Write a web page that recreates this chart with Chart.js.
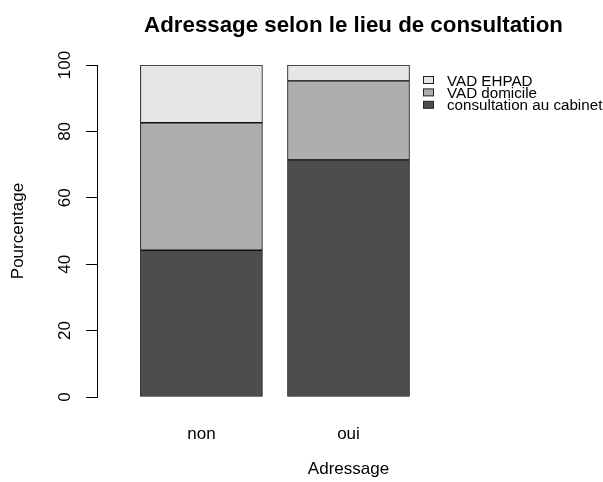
<!DOCTYPE html>
<html><head><meta charset="utf-8">
<script src="https://cdn.jsdelivr.net/npm/chart.js@4"></script>
<style>html,body{margin:0;padding:0;background:#fff}canvas{display:block}</style>
</head><body>
<div style="width:603px;height:482px"><canvas id="c" width="603" height="482" style="width:603px;height:482px"></canvas></div>
<script>
// ---- data ----
const categories = ['non', 'oui'];
const seriesNames = ['consultation au cabinet', 'VAD domicile', 'VAD EHPAD'];
const cabinet = [44.2, 71.4];
const domicile = [38.4, 23.8];
const ehpad = [17.4, 4.8];
const yTicks = [0, 20, 40, 60, 80, 100];
const chartTitle = 'Adressage selon le lieu de consultation';
const xTitle = 'Adressage';
const yTitle = 'Pourcentage';

// ---- styles ----
const colors = ['#4d4d4d', '#aeaeae', '#e6e6e6'];
const FONT = "'Liberation Sans', Arial, sans-serif";

// R barplot convention: bar width 1, space 0.2 ; xlim c(0, 3.8) with 4% extension
const pos = i => 0.7 + 1.2 * i;
const xlim = [0, 3.8];
const ext = 0.04 * (xlim[1] - xlim[0]);

const series = [cabinet, domicile, ehpad];
const datasets = series.map((s, k) => ({
  label: seriesNames[k],
  stack: 'all',
  data: s.map((v, i) => ({ x: pos(i), y: v })),
  backgroundColor: colors[k],
  borderColor: '#111',
  borderWidth: 1,
  borderSkipped: false,
  barThickness: 122
}));

const titlePlugin = {
  id: 'rtitle',
  afterDraw(chart) {
    const { ctx, chartArea: a } = chart;
    ctx.save();
    ctx.font = 'bold 22.3px ' + FONT;
    ctx.fillStyle = '#000';
    ctx.textAlign = 'center';
    ctx.textBaseline = 'alphabetic';
    ctx.fillText(chartTitle, (a.left + a.right) / 2 + 5, 31.5);
    ctx.restore();
  }
};

const legendPlugin = {
  id: 'rlegend',
  afterDraw(chart) {
    const { ctx } = chart;
    const ds = chart.data.datasets;
    ctx.save();
    ctx.font = '15.2px ' + FONT;
    ctx.textAlign = 'left';
    ctx.textBaseline = 'alphabetic';
    for (let r = 0; r < ds.length; r++) {
      const d = ds[ds.length - 1 - r];
      const top = 76.5 + 12.4 * r;
      ctx.fillStyle = d.backgroundColor;
      ctx.fillRect(423.5, top, 10, 7);
      ctx.strokeStyle = '#222';
      ctx.lineWidth = 1;
      ctx.strokeRect(423.5, top, 10, 7);
      ctx.fillStyle = '#000';
      ctx.fillText(d.label, 447, top + 9);
    }
    ctx.restore();
  }
};

new Chart(document.getElementById('c'), {
  type: 'bar',
  data: { datasets },
  options: {
    responsive: false,
    devicePixelRatio: 1,
    animation: false,
    layout: { padding: { left: 0, right: 3, top: 65, bottom: 0 } },
    plugins: { legend: { display: false }, tooltip: { enabled: false }, title: { display: false } },
    scales: {
      x: {
        type: 'linear',
        offset: false,
        bounds: 'data',
        min: xlim[0] - ext,
        max: xlim[1] + ext,
        afterBuildTicks: s => { s.ticks = categories.map((c, i) => ({ value: pos(i) })); },
        afterFit: s => { s.height = 85; },
        ticks: {
          callback: (v, i) => categories[i],
          autoSkip: false, maxRotation: 0, minRotation: 0,
          padding: 27, color: '#000', font: { family: FONT, size: 17 }
        },
        grid: { display: false, drawTicks: false, offset: false },
        border: { display: false },
        title: { display: true, text: xTitle, color: '#000', font: { family: FONT, size: 17 }, padding: { top: 4, bottom: 2 } }
      },
      y: {
        stacked: true,
        min: 0, max: 100,
        afterBuildTicks: s => { s.ticks = yTicks.map(v => ({ value: v })); },
        afterFit: s => { s.width = 97; },
        ticks: {
          minRotation: 90, maxRotation: 90, crossAlign: 'center',
          padding: 7, color: '#000', font: { family: FONT, size: 17 }
        },
        grid: { drawOnChartArea: false, drawTicks: true, tickLength: 11, color: '#000', lineWidth: 1 },
        border: { display: true, color: '#000', width: 1 },
        title: { display: true, text: yTitle, color: '#000', font: { family: FONT, size: 17 }, padding: { top: 8, bottom: 4 } }
      }
    }
  },
  plugins: [titlePlugin, legendPlugin]
});
</script>
</body></html>
